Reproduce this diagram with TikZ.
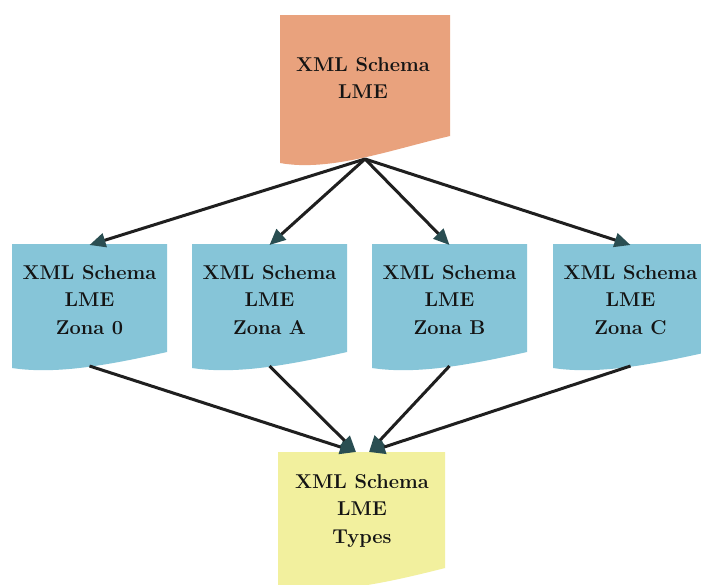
\documentclass[tikz,border=0pt]{standalone}
\usepackage{tikz}
\usetikzlibrary{arrows.meta}
\definecolor{cam}{RGB}{233,162,125}
\definecolor{xanh}{RGB}{134,197,216}
\definecolor{vang}{RGB}{242,240,158}
\definecolor{muiten}{RGB}{42,78,82}

\begin{document}
\begin{tikzpicture}[x=1pt, y=-1pt,
  chu/.style={align=center, font=\fontsize{20}{27.5}\selectfont\bfseries, text=black!92},
  mui/.style={line width=3pt, black!88, -{Triangle[length=16pt,width=14pt,color=muiten]}}]
% Khung hình
\fill[white] (0,0) rectangle (701,584);
\useasboundingbox (0,0) rectangle (701,584);

% Tài liệu gốc (trên cùng)
\fill[cam] (280,15) -- (450,15) -- (450,136) .. controls (390,150) and (330,172) .. (280,163) -- cycle;
\node[chu] (goc) at (363,78) {XML Schema\\LME};
\coordinate (goc-b) at (365,159);

% Các tài liệu theo vùng
\foreach \x/\ten/\z in {12/z0/0, 192/zA/A, 372/zB/B, 553/zC/C} {
    \fill[xanh] (\x,244) -- (\x+155,244) -- (\x+155,352) .. controls (\x+101,364) and (\x+46,375) .. (\x,368) -- cycle;
    \node[chu] (\ten) at (\x+77.5,300) {XML Schema\\LME\\Zona \z};
    \coordinate (\ten-t) at (\x+77.5,245);
    \coordinate (\ten-b) at (\x+77.5,366);
}

% Tài liệu kiểu dữ liệu (dưới cùng)
\fill[vang] (278,452) -- (445,452) -- (445,568) .. controls (390,582) and (328,596) .. (278,588) -- cycle;
\node[chu] (kieu) at (362,511) {XML Schema\\LME\\Types};
\coordinate (kieu-l) at (356,452);
\coordinate (kieu-r) at (369,452);

% Các mũi tên
\foreach \ten in {z0,zA,zB,zC} {
    \draw[mui] (goc-b) -- (\ten-t);
}
\foreach \ten in {z0,zA} {
    \draw[mui] (\ten-b) -- (kieu-l);
}
\foreach \ten in {zB,zC} {
    \draw[mui] (\ten-b) -- (kieu-r);
}
\end{tikzpicture}
\end{document}
